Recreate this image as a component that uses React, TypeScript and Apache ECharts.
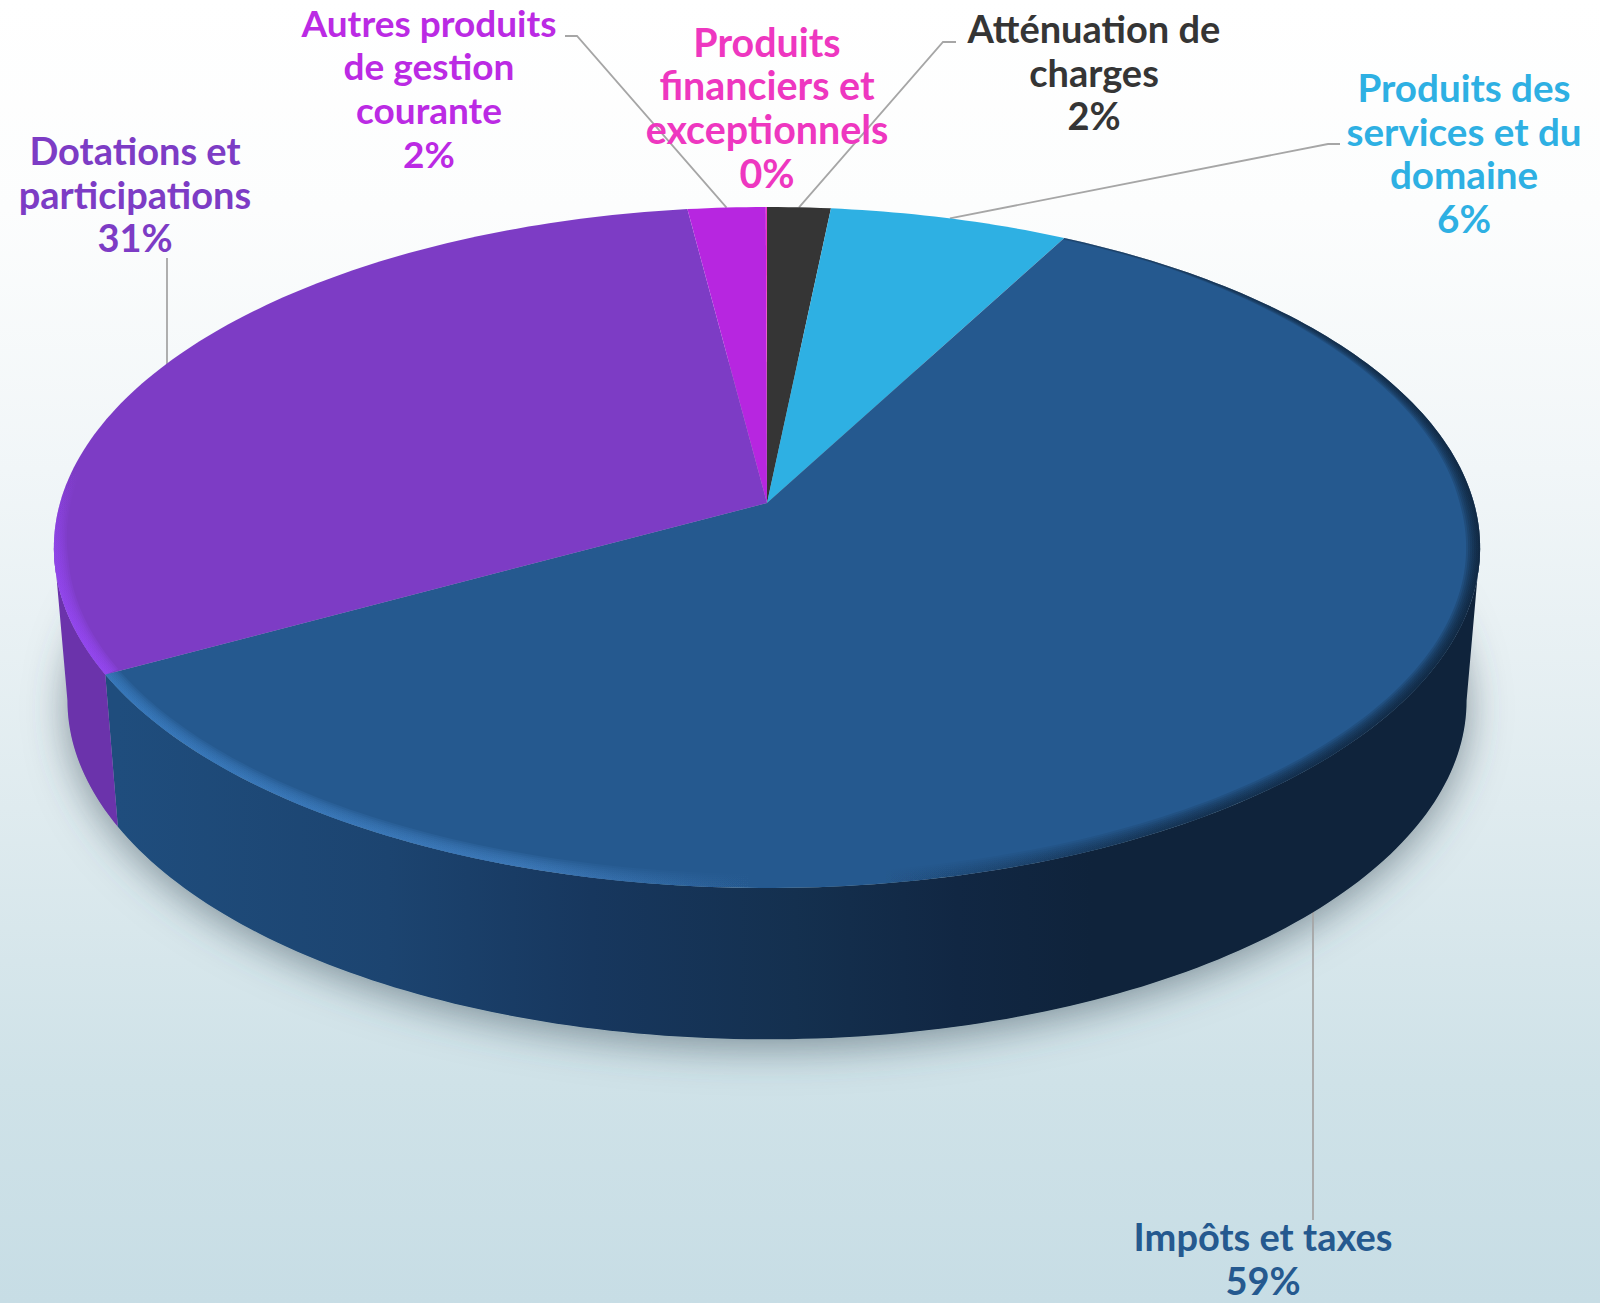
import React, { useEffect, useRef } from "react";
import * as echarts from "echarts";

// ---- data ----
const categories = [
  "Atténuation de\ncharges",
  "Produits des\nservices et du\ndomaine",
  "Impôts et taxes",
  "Dotations et\nparticipations",
  "Autres produits\nde gestion\ncourante",
  "Produits\nfinanciers et\nexceptionnels",
];
const shares = [1.63, 6.14, 59.26, 30.94, 2.0, 0.03];

// ---- styles and layout ----
const topColors = ["#353535", "#2eb0e3", "#25598f", "#7d3cc5", "#b726e0", "#ee37c0"];
const labelColors = ["#353535", "#2eb0e3", "#25598f", "#7d3cc5", "#bb2ae4", "#ee37c0"];
const fontFamily = "Lato";
const labelLayout = [
  { x: 1094, y: 28, size: 38 },
  { x: 1464, y: 87, size: 38.6 },
  { x: 1263, y: 1236, size: 38 },
  { x: 135, y: 150, size: 38 },
  { x: 429, y: 22, size: 37 },
  { x: 767, y: 41, size: 39.4 },
];
const LINE_H = 43.7;
const leaderElbows: number[][][] = [
  [[943, 42], [956, 42]],
  [[1328, 144], [1340, 144]],
  [[1313, 1220]],
  [[167, 258]],
  [[577, 36], [565, 36]],
  [],
];
// a vertical leader ends behind the pie, at this page height
const leaderVerticalEnd = [0, 0, 880, 400, 0, 0];

// projection of the unit disc on the page
const CX = 767, APEX_Y = 503, K = 0.1307, AY = 334.7, BX = 707;
const ELL_CY = 547;
const WALL_H = 153, BASE_SX = 0.981, BASE_SY = 0.995;
const STEP = (2 * Math.PI) / 360;
const FRONT_FROM = Math.PI / 2 + Math.asin(K);
const FRONT_TO = (3 * Math.PI) / 2 - Math.asin(K);
const DEG = Math.PI / 180;
const RIM_WIDTHS = [2, 4, 6, 8, 10, 12, 14];

const total = shares.reduce((a, b) => a + b, 0);
const sliceRows = shares.map((v, i) => {
  const before = shares.slice(0, i).reduce((a, b) => a + b, 0);
  return [before, before + v, i];
});
const toAngle = (cum: number) => echarts.number.linearMap(cum, [0, total], [0, 2 * Math.PI]);

function top(a: number): number[] {
  const u = Math.sin(a), v = Math.cos(a), w = 1 + K * v;
  return [CX + (BX * u) / w, APEX_Y - (AY * v) / w];
}
function base(p: number[]): number[] {
  return [CX + (p[0] - CX) * BASE_SX, ELL_CY + WALL_H + (p[1] - ELL_CY) * BASE_SY];
}
function inset(p: number[], d: number): number[] {
  return [CX + (p[0] - CX) * (1 - d / 713), ELL_CY + (p[1] - ELL_CY) * (1 - d / 340)];
}
function angles(a0: number, a1: number): number[] {
  const n = Math.max(1, Math.ceil((a1 - a0) / STEP));
  const out: number[] = [];
  for (let i = 0; i <= n; i++) out.push(a0 + ((a1 - a0) * i) / n);
  return out;
}
function arc(a0: number, a1: number): number[][] {
  return angles(a0, a1).map(top);
}
const clamp01 = (t: number) => Math.max(0, Math.min(1, t));
const G = (x0: number, y0: number, x1: number, y1: number, stops: [number, string][]) =>
  new echarts.graphic.LinearGradient(
    x0, y0, x1, y1, stops.map(([offset, color]) => ({ offset, color })), true
  );

const wallFill = (i: number) => {
  if (i === 2)
    return G(118, 0, 1472, 0, [
      [0, "#1f4d7d"], [0.2, "#1c4470"], [0.35, "#17375e"], [0.5, "#14304f"],
      [0.62, "#112743"], [0.72, "#0f233b"], [1, "#0f233b"],
    ]);
  if (i === 3) return "#6b33ab";
  return topColors[i];
};
const rimFill = (i: number) => {
  if (i === 2)
    return G(110, 0, 1481, 0, [
      [0, "rgba(60,128,198,0.18)"], [0.3, "rgba(66,128,194,0.18)"], [0.47, "rgba(60,118,180,0)"],
      [0.56, "rgba(12,30,50,0)"], [0.78, "rgba(12,30,50,0.13)"], [1, "rgba(12,30,50,0.2)"],
    ]);
  if (i === 3)
    return G(0, 470, 0, 640, [[0, "rgba(150,72,245,0)"], [0.5, "rgba(150,72,245,0.16)"], [1, "rgba(150,72,245,0.22)"]]);
  return null;
};
const rimProfile = (i: number, a: number) => {
  if (i === 2) return Math.max(0.15, clamp01((a - 30 * DEG) / (60 * DEG)));
  return clamp01((300 * DEG - a) / (40 * DEG));
};

export default function App() {
  const ref = useRef<HTMLDivElement>(null);
  useEffect(() => {
    const chart = echarts.init(ref.current!, null, { renderer: "svg" });
    const renderShadow = () => ({
      type: "polygon",
      silent: true,
      shape: { points: arc(0, 2 * Math.PI).map(base) },
      style: {
        fill: "#9fb4bc",
        shadowBlur: 40,
        shadowColor: "rgba(60,80,92,0.58)",
        shadowOffsetY: 8,
        shadowOffsetX: 0,
      },
    });
    const renderLeader = (_: any, api: any) => {
      const i = api.value(2);
      if (!leaderElbows[i].length) return null;
      const mid = top(toAngle((api.value(0) + api.value(1)) / 2));
      const start = leaderVerticalEnd[i] ? [leaderElbows[i][0][0], leaderVerticalEnd[i]] : mid;
      return {
        type: "polyline",
        silent: true,
        shape: { points: [start, ...leaderElbows[i]] },
        style: { stroke: "#a6a6a6", lineWidth: 1.8, fill: null },
      };
    };
    const renderWall = (_: any, api: any) => {
      const i = api.value(2);
      const a0 = Math.max(toAngle(api.value(0)), FRONT_FROM);
      const a1 = Math.min(toAngle(api.value(1)), FRONT_TO);
      if (a1 <= a0) return null;
      const pts = arc(a0, a1);
      return {
        type: "polygon",
        silent: true,
        shape: { points: pts.concat(pts.map(base).reverse()) },
        style: { fill: wallFill(i) },
      };
    };
    const renderFace = (_: any, api: any) => {
      const i = api.value(2);
      const a0 = toAngle(api.value(0)), a1 = toAngle(api.value(1));
      const children: any[] = [
        {
          type: "polygon",
          shape: { points: [[CX, APEX_Y], ...arc(a0, a1)] },
          style: { fill: topColors[i] },
        },
      ];
      const fill = rimFill(i);
      if (fill) {
        const as = angles(a0, a1);
        RIM_WIDTHS.forEach((d) => {
          const outer = as.map(top);
          const inner = as.map((a) => inset(top(a), d * rimProfile(i, a)));
          children.push({
            type: "polygon",
            shape: { points: outer.concat(inner.reverse()) },
            style: { fill },
          });
        });
      }
      return { type: "group", silent: true, children };
    };
    const renderLabel = (_: any, api: any) => {
      const i = api.value(2);
      const l = labelLayout[i];
      return {
        type: "text",
        silent: true,
        style: {
          text: categories[i] + "\n" + Math.round((shares[i] / total) * 100) + "%",
          x: l.x,
          y: l.y - LINE_H / 2,
          fill: labelColors[i],
          font: `bold ${l.size}px ${fontFamily}`,
          textAlign: "center",
          textVerticalAlign: "top",
          lineHeight: LINE_H,
        },
      };
    };
    const series = (z: number, renderItem: any, data: any[]) => ({
      type: "custom",
      coordinateSystem: "none",
      silent: true,
      z,
      renderItem,
      data,
    });
    chart.setOption({
      animation: false,
      backgroundColor: new echarts.graphic.LinearGradient(0, 0, 0, 1, [
        { offset: 0, color: "#ffffff" },
        { offset: 0.16, color: "#fcfdfd" },
        { offset: 0.36, color: "#f1f6f8" },
        { offset: 0.62, color: "#dfebef" },
        { offset: 0.83, color: "#cfe2e8" },
        { offset: 1, color: "#c7dde5" },
      ]),
      series: [
        series(1, renderShadow, [[0, total, 0]]),
        series(2, renderLeader, sliceRows),
        series(3, renderWall, sliceRows),
        series(4, renderFace, sliceRows),
        series(5, renderLabel, sliceRows),
      ],
    });
    return () => chart.dispose();
  }, []);
  return (
    <div
      ref={ref}
      style={{ position: "absolute", left: 0, top: 0, width: 1600, height: 1303 }}
    />
  );
}
